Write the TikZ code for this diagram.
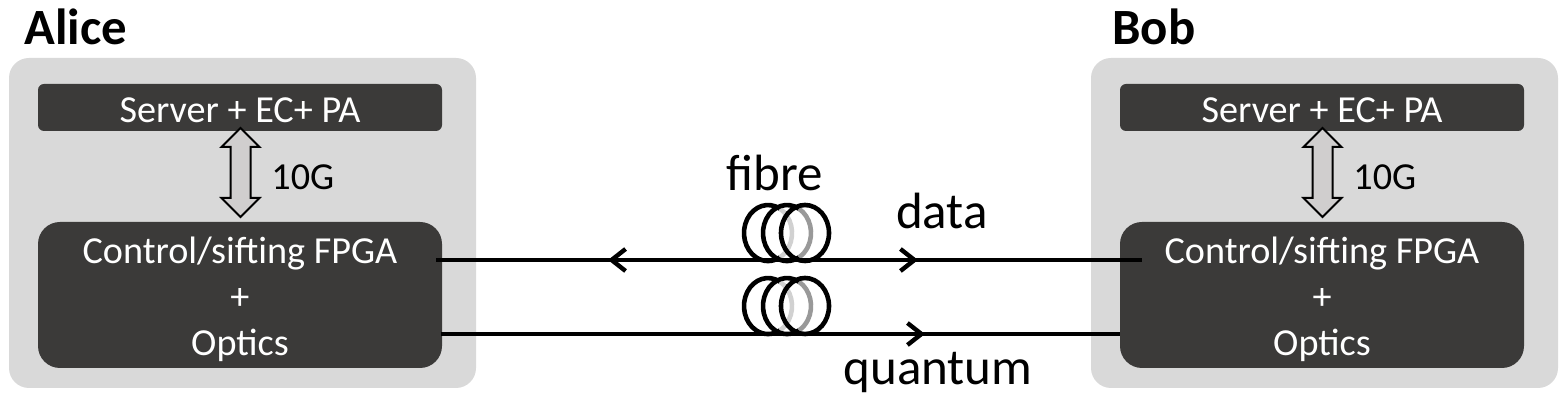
\documentclass[tikz,border=0pt]{standalone}
\usepackage{fontspec}
\setmainfont{Carlito}
\usetikzlibrary{arrows.meta}
\usetikzlibrary{shapes.arrows}
\definecolor{panelgrey}{HTML}{D9D9D9}
\definecolor{boxdark}{HTML}{3B3A39}
\definecolor{arrowgrey}{HTML}{D0CECE}
\tikzset{
    panel/.style={fill=panelgrey,rounded corners=10pt},
    serverbox/.style={fill=boxdark,rounded corners=3pt},
    fpgabox/.style={fill=boxdark,rounded corners=11pt},
    boxlabel/.style={text=white,font=\fontsize{19.1}{21}\selectfont,inner sep=0pt},
    linklabel/.style={font=\fontsize{19.1}{21}\selectfont,inner sep=0pt},
    sidelabel/.style={font=\fontsize{25.4}{28}\selectfont\bfseries,inner sep=0pt},
    fibrelabel/.style={font=\fontsize{25.5}{28}\selectfont,inner sep=0pt},
    busarrow/.style={draw,line width=1pt,fill=arrowgrey,double arrow,rotate=90,inner xsep=0pt,inner ysep=4.5pt,
        minimum height=44.5pt,double arrow head extend=4.5pt},
    fibreline/.style={line width=2.4pt},
    barb/.style={-{Straight Barb[length=7pt,width=11pt,line width=2.2pt]}},
    coil/.style={line width=2.3pt},
}
\begin{document}
\begin{tikzpicture}[x=0.5pt,y=0.5pt]
    \useasboundingbox (0,0) rectangle (1568,400);

    \fill[panel] (9,12) rectangle (476,342);
    \fill[panel] (1091,12) rectangle (1558,342);
    \node[serverbox,minimum width=202pt,minimum height=23.5pt,inner sep=0pt] (aliceServer) at (240,292.5) {};
    \node[serverbox,minimum width=202pt,minimum height=23.5pt,inner sep=0pt] (bobServer) at (1322,292.5) {};
    \node[fpgabox,minimum width=202pt,minimum height=73pt,inner sep=0pt] (aliceFpga) at (240,105) {};
    \node[fpgabox,minimum width=202pt,minimum height=73pt,inner sep=0pt] (bobFpga) at (1322,105) {};

    \node[boxlabel] (aliceServerText) at (240,290) {Server + EC+ PA};
    \node[boxlabel] (bobServerText) at (1322,290) {Server + EC+ PA};
    \node[boxlabel] (aliceCtrl) at (240,146) {Control/sifting FPGA};
    \node[boxlabel] (alicePlus) at (240,101) {+};
    \node[boxlabel] (aliceOptics) at (240,55) {Optics};
    \node[boxlabel] (bobCtrl) at (1322,146) {Control/sifting FPGA};
    \node[boxlabel] (bobPlus) at (1322,101) {+};
    \node[boxlabel] (bobOptics) at (1322,55) {Optics};

    \node[busarrow] (aliceBus) at (240.5,227.5) {};
    \node[busarrow] (bobBus) at (1322.5,227.5) {};
    \node[linklabel,anchor=west] (aliceRate) at (271,223) {10G};
    \node[linklabel,anchor=west] (bobRate) at (1353,223) {10G};

    \node[sidelabel,anchor=west] (alice) at (24,373) {Alice};
    \node[sidelabel,anchor=west] (bob) at (1112,373) {Bob};
    \node[fibrelabel] (fibre) at (775,227) {fibre};
    \node[fibrelabel] (data) at (942,189) {data};
    \node[fibrelabel] (quantum) at (938,28) {quantum};

    % fibre spools
    \foreach \yc in {167,94}{
        \draw[coil] (780,\yc+24.2) arc [start angle=60,end angle=300,x radius=24,y radius=28];
        \draw[coil,black!18] (780,\yc+24.2) arc [start angle=60,end angle=-60,x radius=24,y radius=28];
        \draw[coil] (799,\yc+24.2) arc [start angle=60,end angle=300,x radius=24,y radius=28];
        \draw[coil,black!40] (799,\yc+24.2) arc [start angle=60,end angle=-60,x radius=24,y radius=28];
        \draw[coil] (805,\yc) ellipse [x radius=24,y radius=28];
    }

    \coordinate (aliceData) at (436,140);
    \coordinate (bobData) at (1142,140);
    \coordinate (aliceQuantum) at (441,66);
    \coordinate (bobQuantum) at (1120,66);
    \coordinate (dataLeft) at (608,140);
    \coordinate (dataRight) at (918,140);
    \coordinate (quantumRight) at (925,66);

    \draw[fibreline] (aliceData) -- (bobData);
    \draw[fibreline] (aliceQuantum) -- (bobQuantum);
    \draw[fibreline,barb] (aliceData -| fibre) -- (dataLeft);
    \draw[fibreline,barb] (aliceData -| fibre) -- (dataRight);
    \draw[fibreline,barb] (aliceQuantum -| fibre) -- (quantumRight);
\end{tikzpicture}
\end{document}
